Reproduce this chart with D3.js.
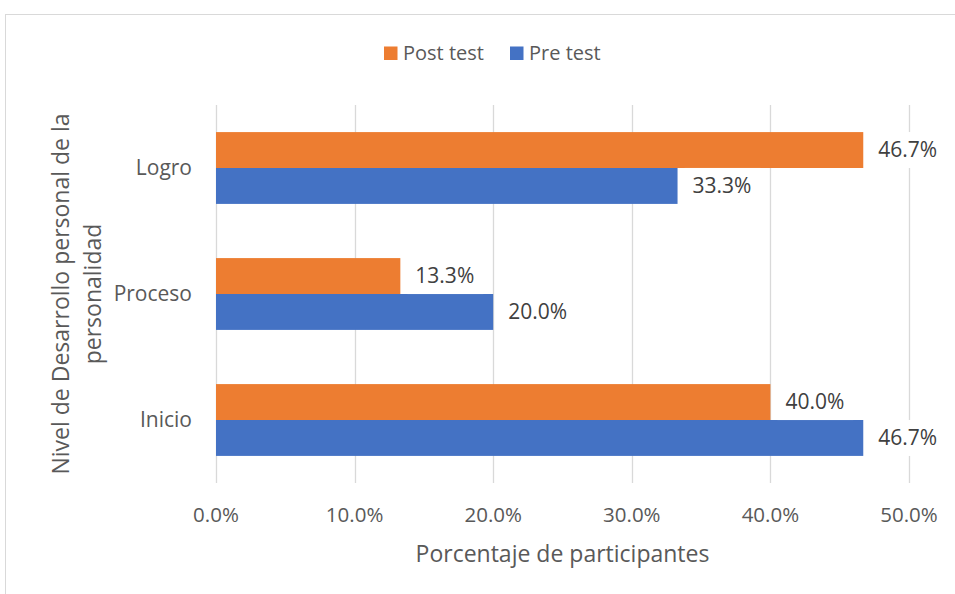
<!DOCTYPE html>
<html>
<head>
<meta charset="utf-8">
<script src="https://cdn.jsdelivr.net/npm/d3@7"></script>
<style>
  body { margin: 0; background: #fff; }
  svg { font-family: "Open Sans", "Noto Sans", sans-serif; }
</style>
</head>
<body>
<div class="chart"></div>
<script>
const categories = ['Logro', 'Proceso', 'Inicio'];
const series = ['Post test', 'Pre test'];
const postTest = [46.7, 13.3, 40.0];
const preTest = [33.3, 20.0, 46.7];
const xTicks = [0, 10, 20, 30, 40, 50];
const colors = ['#ED7D31', '#4472C4'];

const margin = ({top: 105, right: 46, bottom: 111, left: 216});
const width = 955 - margin.left - margin.right;
const height = 594 - margin.top - margin.bottom;

const root = d3.select('.chart').append('svg')
	.attr('width', 955)
	.attr('height', 594);

// chart border (runs off the picture on right and bottom)
root.append('rect')
	.attr('x', 5.5).attr('y', 14.5)
	.attr('width', 1000).attr('height', 700)
	.attr('fill', 'none')
	.attr('stroke', '#d9d9d9');

const svg = root.append('g')
	.attr('transform', `translate(${margin.left},${margin.top})`);

const xScale = d3.scaleLinear()
	.domain([0, 50])
	.range([0, width]);

const yScale = d3.scaleBand()
	.domain(categories)
	.range([0, height])
	.paddingInner(0.43)
	.paddingOuter(0.215);

const inner = d3.scaleBand()
	.domain(series)
	.range([0, yScale.bandwidth()]);

// gridlines
svg.append('g')
	.selectAll('line')
	.data(xTicks)
	.join('line')
	.attr('x1', d => Math.round(xScale(d)) + 0.5)
	.attr('x2', d => Math.round(xScale(d)) + 0.5)
	.attr('y1', 0)
	.attr('y2', height)
	.attr('stroke', '#d9d9d9')
	.attr('stroke-width', 1.3);

const values = [postTest, preTest];
const rows = [];
series.forEach((s, si) => {
	categories.forEach((c, ci) => {
		rows.push({series: s, si, cat: c, value: values[si][ci]});
	});
});

svg.selectAll('.bar')
	.data(rows)
	.join('rect')
	.attr('class', 'bar')
	.attr('x', xScale(0))
	.attr('y', d => yScale(d.cat) + inner(d.series))
	.attr('width', d => xScale(d.value) - xScale(0))
	.attr('height', inner.bandwidth())
	.attr('fill', d => colors[d.si]);

// data labels with white boxes
const labels = svg.selectAll('.lbl')
	.data(rows)
	.join('g')
	.attr('class', 'lbl')
	.attr('transform', d => `translate(${xScale(d.value) + 15},${yScale(d.cat) + inner(d.series) + inner.bandwidth() / 2})`);

labels.append('rect')
	.attr('x', -8)
	.attr('y', -18)
	.attr('width', 76)
	.attr('height', 36)
	.attr('fill', '#fff');

labels.append('text')
	.attr('dy', '0.35em')
	.attr('font-size', 21)
	.attr('fill', '#404040')
	.text(d => d.value.toFixed(1) + '%');

// x axis tick labels
svg.append('g')
	.selectAll('text')
	.data(xTicks)
	.join('text')
	.attr('x', d => xScale(d))
	.attr('y', height + 39)
	.attr('text-anchor', 'middle')
	.attr('font-size', 20.5)
	.attr('fill', '#595959')
	.text(d => d.toFixed(1) + '%');

// category labels
svg.append('g')
	.selectAll('text')
	.data(categories)
	.join('text')
	.attr('x', -24)
	.attr('y', d => yScale(d) + yScale.bandwidth() / 2)
	.attr('dy', '0.35em')
	.attr('text-anchor', 'end')
	.attr('font-size', 21)
	.attr('fill', '#595959')
	.text(d => d);

// axis titles
root.append('text')
	.attr('x', margin.left + width / 2)
	.attr('y', 562)
	.attr('text-anchor', 'middle')
	.attr('font-size', 23)
	.attr('fill', '#595959')
	.text('Porcentaje de participantes');

const yTitle = root.append('text')
	.attr('transform', `translate(69,${margin.top + height / 2}) rotate(-90)`)
	.attr('text-anchor', 'middle')
	.attr('font-size', 23)
	.attr('fill', '#595959');
yTitle.append('tspan').attr('x', 0).attr('y', 0).text('Nivel de Desarrollo personal de la');
yTitle.append('tspan').attr('x', 0).attr('y', 32).text('personalidad');

// legend
const legend = root.append('g');
const legendX = [384, 510];
series.forEach((s, i) => {
	legend.append('rect')
		.attr('x', legendX[i]).attr('y', 46.5)
		.attr('width', 13.5).attr('height', 13.5)
		.attr('fill', colors[i]);
	legend.append('text')
		.attr('x', legendX[i] + 19).attr('y', 60)
		.attr('font-size', 20)
		.attr('fill', '#595959')
		.text(s);
});
</script>
</body>
</html>
